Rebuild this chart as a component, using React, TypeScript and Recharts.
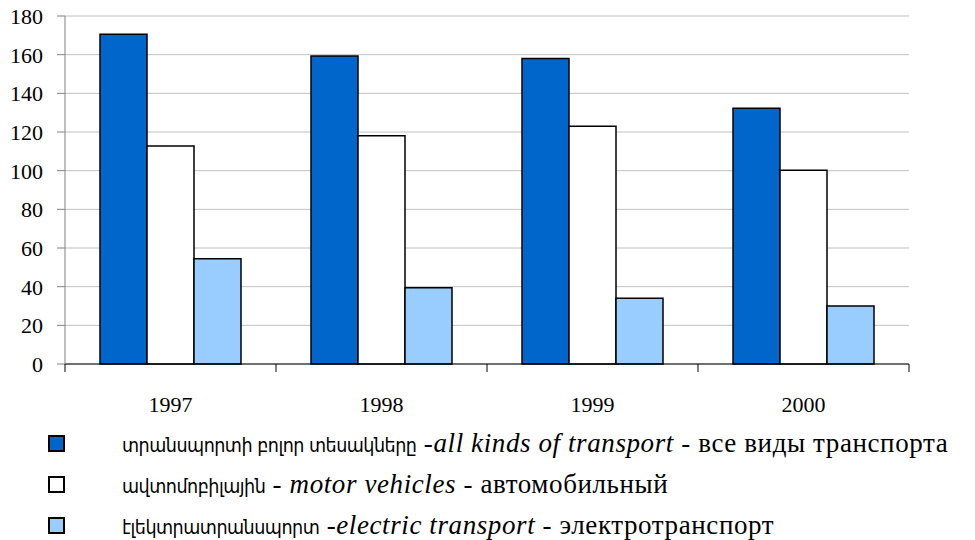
import React from 'react';
import { BarChart, Bar, XAxis, YAxis, CartesianGrid } from 'recharts';

const years = ['1997', '1998', '1999', '2000'];
const allTransport = [170.5, 159.3, 158, 132.3];
const motorVehicles = [112.8, 118, 123, 100.2];
const electricTransport = [54.5, 39.4, 34, 30];
const yTicks = [0, 20, 40, 60, 80, 100, 120, 140, 160, 180];

const seriesNames = [
    { key: 'all', color: '#0066cc', arm: 'տրանսպորտի բոլոր տեսակները', sep: ' -', en: 'all kinds of transport', ru: ' - все виды транспорта' },
    { key: 'motor', color: '#ffffff', arm: 'ավտոմոբիլային', sep: ' - ', en: 'motor vehicles', ru: ' - автомобильный' },
    { key: 'electric', color: '#99ccff', arm: 'էլեկտրատրանսպորտ', sep: ' -', en: 'electric transport', ru: ' - электротранспорт' },
];

const data = years.map((year, i) => ({
    year,
    all: allTransport[i],
    motor: motorVehicles[i],
    electric: electricTransport[i],
}));

const FONT = "'Liberation Serif', 'Times New Roman', serif";
const ARM_FONT = "'DejaVu Sans Condensed', 'DejaVu Sans', sans-serif";

// year label in the middle of the band, tick marks on the band edges
const YearTick = (props: any) => {
    const { x, y, payload, index } = props;
    const half = payload.offset || 0;
    const isLast = index === years.length - 1;
    return (
        <g>
            <line x1={x - half} y1={y} x2={x - half} y2={y + 8} stroke="#000" />
            {isLast && <line x1={x + half} y1={y} x2={x + half} y2={y + 8} stroke="#000" />}
            <text x={x} y={y + 48} textAnchor="middle" fontFamily={FONT} fontSize={22} fill="#000">
                {payload.value}
            </text>
        </g>
    );
};

const ValueTick = (props: any) => {
    const { x, y, payload } = props;
    return (
        <text x={x} y={y + 8} textAnchor="end" fontFamily={FONT} fontSize={22} fill="#000">
            {payload.value}
        </text>
    );
};

const App: React.FC = () => {
    return (
        <div style={{ position: 'absolute', left: 0, top: 0, width: 975, height: 540, background: '#fff' }}>
            <BarChart
                width={975}
                height={420}
                data={data}
                margin={{ top: 16, right: 66, left: 0, bottom: 0 }}
                barCategoryGap={35}
                barGap={0}
            >
                <CartesianGrid vertical={false} stroke="#c0c0c0" />
                <XAxis
                    dataKey="year"
                    height={56}
                    axisLine={{ stroke: '#000' }}
                    tickLine={false}
                    tickSize={0}
                    tickMargin={0}
                    interval={0}
                    tick={<YearTick />}
                />
                <YAxis
                    width={65}
                    domain={[0, 180]}
                    ticks={yTicks}
                    interval={0}
                    axisLine={{ stroke: '#808080' }}
                    tickLine={{ stroke: '#808080' }}
                    tickSize={8}
                    tickMargin={14}
                    tick={<ValueTick />}
                />
                <Bar dataKey="all" fill="#0066cc" stroke="#000" strokeWidth={1.5} isAnimationActive={false} />
                <Bar dataKey="motor" fill="#ffffff" stroke="#000" strokeWidth={1.5} isAnimationActive={false} />
                <Bar dataKey="electric" fill="#99ccff" stroke="#000" strokeWidth={1.5} isAnimationActive={false} />
            </BarChart>
            {seriesNames.map((s, i) => (
                <div
                    key={s.key}
                    style={{
                        position: 'absolute',
                        left: 48,
                        top: 428 + i * 41,
                        height: 30,
                        display: 'flex',
                        alignItems: 'center',
                        whiteSpace: 'nowrap',
                        fontSize: 27,
                        letterSpacing: 0.6,
                        fontFamily: FONT,
                        color: '#000',
                    }}
                >
                    <span
                        style={{
                            display: 'inline-block',
                            width: 13,
                            height: 13,
                            background: s.color,
                            border: '2px solid #000',
                            marginRight: 57,
                        }}
                    />
                    <span>
                        <span style={{ fontFamily: ARM_FONT, fontSize: 19.5, letterSpacing: -0.5 }}>{s.arm}</span>
                        {s.sep}
                        <i>{s.en}</i>
                        {s.ru}
                    </span>
                </div>
            ))}
        </div>
    );
};

export default App;
